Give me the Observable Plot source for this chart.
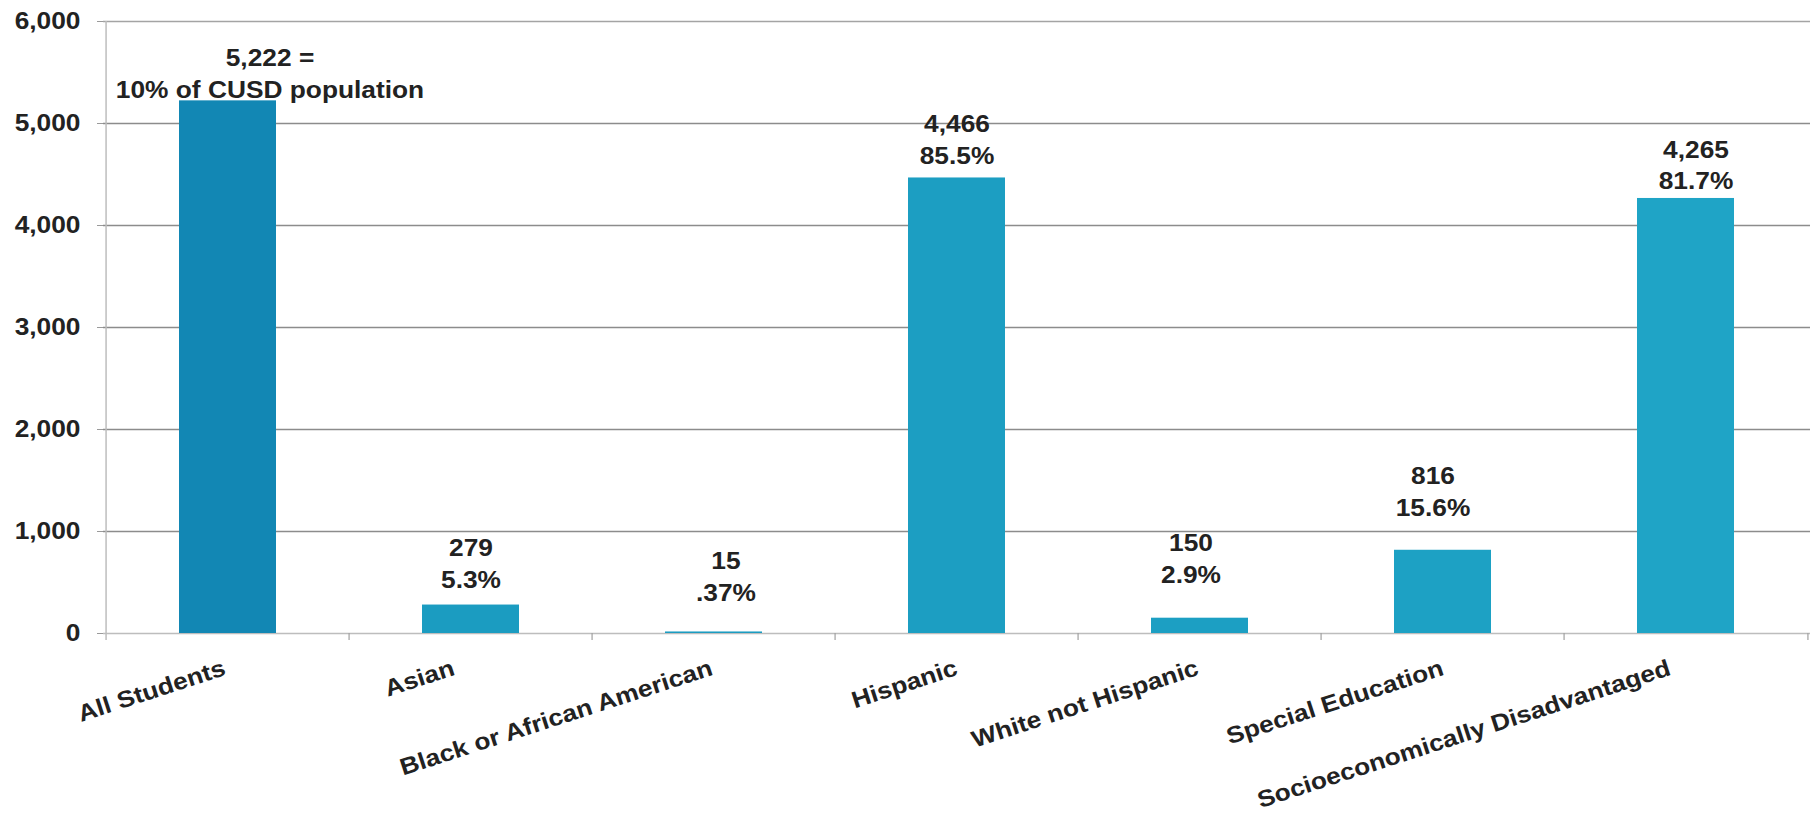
<!DOCTYPE html>
<html><head><meta charset="utf-8">
<script src="https://cdn.jsdelivr.net/npm/d3@7"></script>
<script src="https://cdn.jsdelivr.net/npm/@observablehq/plot@0.6"></script>
<style>html,body{margin:0;padding:0;background:#fff;} #chart svg{display:block;}</style>
</head><body><div id="chart"></div>
<script>
// ---- data ----
const categories = ["All Students","Asian","Black or African American","Hispanic","White not Hispanic","Special Education","Socioeconomically Disadvantaged"];
const values = [5222, 279, 15, 4466, 150, 816, 4265];
const shareLabels = ["10% of CUSD population","5.3%",".37%","85.5%","2.9%","15.6%","81.7%"];
const yTicks = [0, 1000, 2000, 3000, 4000, 5000, 6000];

// ---- layout / style (hand-placed label nudges in px, bar tints) ----
const labelDx = [42, 0, 12, 0, -9, -10, 10];
const labelDy = [-3, -17, -31, -14, -35, -34, -9];
const catLabelDx = [-1, -15, 0, 2, 0, 2, -14];
const barColors = ["#1287b4","#1b9cc1","#1b9cc1","#1c9ec2","#1c9fc3","#1da1c4","#1fa4c6"];

const W = 1816, H = 816, mL = 103, mR = 6, mT = 21, mB = 183;
const step = (W - mL - mR) / categories.length;
const fmt = d3.format(",");
const rows = categories.map((c, i) => ({
  category: c,
  value: values[i],
  label: fmt(values[i]) + (i === 0 ? " =" : "") + "\n" + shareLabels[i]
}));
const font = "'Liberation Sans', Arial, Helvetica, sans-serif";
const textOpts = {fontSize: 23.5, fontWeight: "bold", fill: "#222", fontFamily: font};

const plot = Plot.plot({
  width: W, height: H,
  marginLeft: mL, marginRight: mR, marginTop: mT, marginBottom: mB,
  x: {domain: categories, paddingInner: 0.6, paddingOuter: 0.3, axis: null},
  y: {domain: [0, 6000], axis: null, label: null},
  color: {domain: categories, range: barColors},
  style: {fontFamily: font, background: "#fff", overflow: "visible"},
  marks: [
    Plot.gridY(yTicks.filter(t => t > 0 && t < 6000), {stroke: "#8c8c8c", strokeOpacity: 1, strokeWidth: 1.5}),
    Plot.gridY([6000], {stroke: "#a4a4a4", strokeOpacity: 1, strokeWidth: 1.3}),
    Plot.ruleY([0], {stroke: "#bdbdbd", strokeWidth: 1.5}),
    Plot.axisY({ticks: yTicks, tickFormat: fmt, label: null, tickSize: 6, tickPadding: 17, stroke: "#9a9a9a", color: "#222", fontSize: 23.5, fontWeight: "bold", fontFamily: font}),
    Plot.ruleX([categories[0]], {x: d => d, y1: () => 6000, y2: () => 0, dx: -step / 2, insetBottom: -7, stroke: "#bdbdbd", strokeWidth: 1.5}),
    Plot.ruleX(categories.slice(1), {x: d => d, y1: () => 0, y2: () => 0, dx: -step / 2, insetBottom: -7, stroke: "#a0a0a0", strokeWidth: 1.2}),
    Plot.ruleX([categories[categories.length - 1]], {x: d => d, y1: () => 0, y2: () => 0, dx: step / 2, insetBottom: -7, stroke: "#a0a0a0", strokeWidth: 1.2}),
    Plot.barY(rows, {x: "category", y: "value", fill: "category"}),
    ...rows.map((r, i) => Plot.text([r], {x: "category", y: "value", text: "label", dx: labelDx[i], dy: labelDy[i], lineAnchor: "bottom", lineHeight: 1.36, ...textOpts})),
    ...rows.map((r, i) => Plot.text([r], {x: "category", y: () => 0, text: "category", rotate: -18, textAnchor: "end", lineAnchor: "bottom", dx: catLabelDx[i], dy: 41, ...textOpts}))
  ]
});

// the source lettering is slightly wide: stretch glyphs horizontally about their anchors
plot.querySelectorAll("text").forEach(t => {
  const tr = t.getAttribute("transform");
  if (tr) t.setAttribute("transform", tr + " scale(1.12,1)");
});
document.getElementById("chart").appendChild(plot);
</script>
</body></html>
